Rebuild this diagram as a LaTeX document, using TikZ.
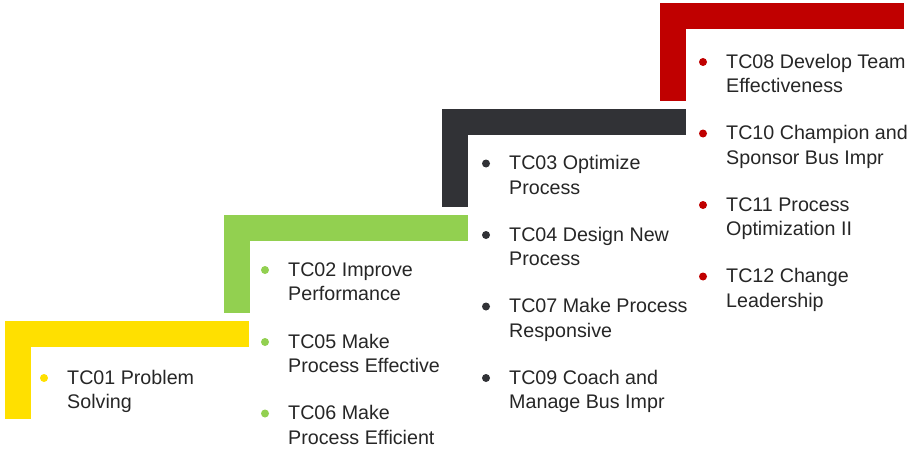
\documentclass[tikz,border=0pt]{standalone}
\usepackage{fontspec}
\setmainfont{Liberation Sans}

\definecolor{stepyellow}{HTML}{FFE000}
\definecolor{stepgreen}{HTML}{92D050}
\definecolor{stepdark}{HTML}{313236}
\definecolor{stepred}{HTML}{C00000}
\definecolor{itemtext}{HTML}{262626}

\tikzset{
	course/.style={anchor=base west, inner sep=0pt, align=left, text=itemtext,
		font=\fontsize{16.8}{20.5}\selectfont},
}

% one step of the staircase: top bar and left leg
\newcommand\stair[3]{%
	\fill[#3] (#1, #2) rectangle ++(244, 26);
	\fill[#3] (#1, #2) rectangle ++(26, 98);
}
% one course: bullet plus its two lines (node base sits on the second line)
\newcommand\course[5]{%
	\fill[#4] (#2-23, #3-6.5) circle (0.12cm);
	\node[course] (#1) at (#2, #3+24) {#5};
}

\begin{document}
\begin{tikzpicture}[x=0.03cm, y=-0.03cm]
			%%%%% START %%%%%
			\useasboundingbox (0, 0) rectangle (909, 451);
			
			\stair{5}{321}{stepyellow}
			\stair{224}{215}{stepgreen}
			\stair{442}{109}{stepdark}
			\stair{660}{3}{stepred}
			
			\course{tc01}{67}{384.5}{stepyellow}{TC01 Problem\\Solving}
			
			\course{tc02}{288}{276.5}{stepgreen}{TC02 Improve\\Performance}
			\course{tc05}{288}{348.5}{stepgreen}{TC05 Make\\Process Effective}
			\course{tc06}{288}{420}{stepgreen}{TC06 Make\\Process Efficient}
			
			\course{tc03}{509}{170}{stepdark}{TC03 Optimize\\Process}
			\course{tc04}{509}{241.5}{stepdark}{TC04 Design New\\Process}
			\course{tc07}{509}{313}{stepdark}{TC07 Make Process\\Responsive}
			\course{tc09}{509}{384.5}{stepdark}{TC09 Coach and\\Manage Bus Impr}
			
			\course{tc08}{726}{68.5}{stepred}{TC08 Develop Team\\Effectiveness}
			\course{tc10}{726}{140}{stepred}{TC10 Champion and\\Sponsor Bus Impr}
			\course{tc11}{726}{211.5}{stepred}{TC11 Process\\Optimization II}
			\course{tc12}{726}{283}{stepred}{TC12 Change\\Leadership}
			
			%%%%% END %%%%%
\end{tikzpicture}
\end{document}
